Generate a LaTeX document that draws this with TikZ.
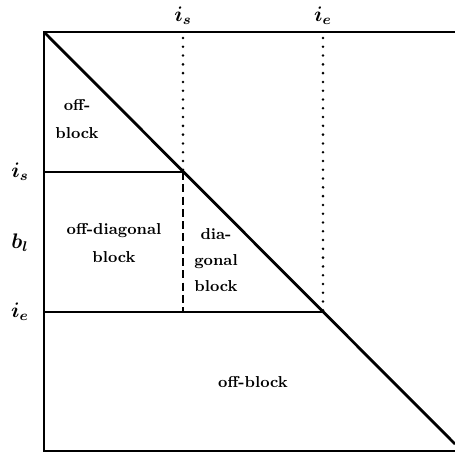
\documentclass[tikz,border=0pt]{standalone}
\usepackage{amsmath}
\usetikzlibrary{positioning}

\begin{document}
\begin{tikzpicture}[
  x=0.02cm, y=-0.02cm,
  edge/.style={line width=1.4pt},
  diag/.style={line width=1.6pt},
  guide/.style={line width=1.6pt, line cap=round, dash pattern=on 0pt off 5pt},
  split/.style={line width=1pt, dash pattern=on 4.5pt off 2.5pt},
  region/.style={align=center, font=\small\bfseries},
  idx/.style={font=\large\boldmath}
]
\useasboundingbox (0,0) rectangle (455,453);

% matrix outline and its corners
\coordinate (tl) at (44,32);
\coordinate (tr) at (455,32);
\coordinate (bl) at (44,451);
\coordinate (br) at (455,451);
\coordinate (cut) at (455,444);
% block bounds on the diagonal
\coordinate (s) at (183,172);
\coordinate (e) at (323,312);
\coordinate (sb) at (183,312);
\coordinate (st) at (183,38);
\coordinate (et) at (323,38);
\coordinate (ls) at (44,172);
\coordinate (le) at (44,312);

\draw[edge] (tr) -- (tl) -- (bl) -- (br);
\draw[diag] (tl) -- (cut);
\draw[edge] (ls) -- (s);
\draw[edge] (le) -- (e);
\draw[split] (s) -- (sb);
\draw[guide] (st) -- (s);
\draw[guide] (et) -- (e);

% index labels
\node[idx] (tops) at (183,16) {$i_s$};
\node[idx] (tope) at (323,16) {$i_e$};
\node[idx] (lefts) at (20,172) {$i_s$};
\node[idx] (leftb) at (20,243) {$b_l$};
\node[idx] (lefte) at (20,312) {$i_e$};

% block names
\node[region] (offtop) at (77,119) {off-\\[5pt]block};
\node[region] (offdiag) at (114,243) {off-diagonal\\[5pt]block};
\node[region] (diagblk) at (216,260) {dia-\\[4pt]gonal\\[4pt]block};
\node[region] (offbot) at (253,382) {off-block};
\end{tikzpicture}
\end{document}
